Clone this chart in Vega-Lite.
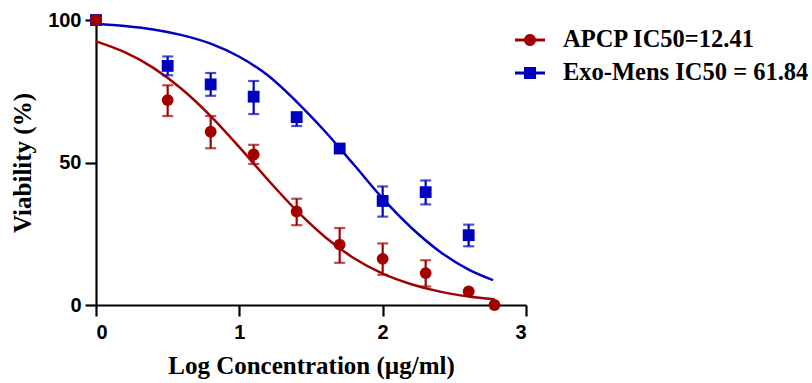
{
  "$schema": "https://vega.github.io/schema/vega-lite/v6.json",
  "width": 430,
  "height": 285,
  "autosize": {"type": "none"},
  "padding": {"left": 96, "top": 20, "right": 286, "bottom": 78},
  "background": "white",
  "config": {
    "view": {"stroke": null},
    "axis": {
      "grid": false,
      "domainColor": "black",
      "domainWidth": 2.2,
      "tickColor": "black",
      "tickWidth": 2.2,
      "tickSize": 11,
      "labelFont": "Liberation Sans",
      "labelFontWeight": "bold",
      "labelFontSize": 20,
      "labelColor": "black",
      "titleFont": "Liberation Serif",
      "titleFontWeight": "bold",
      "titleFontSize": 25,
      "titleColor": "black"
    }
  },
  "datasets": {
    "fit": [
      {"series": "APCP IC50=12.41", "x": 0, "y": 92.5},
      {"series": "APCP IC50=12.41", "x": 0.2, "y": 88.7},
      {"series": "APCP IC50=12.41", "x": 0.4, "y": 83.2},
      {"series": "APCP IC50=12.41", "x": 0.6, "y": 75.7},
      {"series": "APCP IC50=12.41", "x": 0.8, "y": 66.3},
      {"series": "APCP IC50=12.41", "x": 1.0, "y": 55.4},
      {"series": "APCP IC50=12.41", "x": 1.2, "y": 43.9},
      {"series": "APCP IC50=12.41", "x": 1.4, "y": 33.1},
      {"series": "APCP IC50=12.41", "x": 1.6, "y": 23.8},
      {"series": "APCP IC50=12.41", "x": 1.8, "y": 16.4},
      {"series": "APCP IC50=12.41", "x": 2.0, "y": 11.0},
      {"series": "APCP IC50=12.41", "x": 2.2, "y": 7.3},
      {"series": "APCP IC50=12.41", "x": 2.4, "y": 4.7},
      {"series": "APCP IC50=12.41", "x": 2.6, "y": 3.0},
      {"series": "APCP IC50=12.41", "x": 2.78, "y": 2.0},
      {"series": "Exo-Mens IC50 = 61.84", "x": 0, "y": 98.7},
      {"series": "Exo-Mens IC50 = 61.84", "x": 0.2, "y": 97.9},
      {"series": "Exo-Mens IC50 = 61.84", "x": 0.4, "y": 96.7},
      {"series": "Exo-Mens IC50 = 61.84", "x": 0.6, "y": 94.7},
      {"series": "Exo-Mens IC50 = 61.84", "x": 0.8, "y": 91.7},
      {"series": "Exo-Mens IC50 = 61.84", "x": 1.0, "y": 87.1},
      {"series": "Exo-Mens IC50 = 61.84", "x": 1.2, "y": 80.5},
      {"series": "Exo-Mens IC50 = 61.84", "x": 1.4, "y": 71.3},
      {"series": "Exo-Mens IC50 = 61.84", "x": 1.6, "y": 60.8},
      {"series": "Exo-Mens IC50 = 61.84", "x": 1.8, "y": 49.2},
      {"series": "Exo-Mens IC50 = 61.84", "x": 2.0, "y": 37.4},
      {"series": "Exo-Mens IC50 = 61.84", "x": 2.2, "y": 27.1},
      {"series": "Exo-Mens IC50 = 61.84", "x": 2.4, "y": 18.7},
      {"series": "Exo-Mens IC50 = 61.84", "x": 2.6, "y": 12.4},
      {"series": "Exo-Mens IC50 = 61.84", "x": 2.77, "y": 8.7}
    ],
    "pts": [
      {"series": "Exo-Mens IC50 = 61.84", "x": 0, "y": 100, "lo": 100, "hi": 100},
      {"series": "Exo-Mens IC50 = 61.84", "x": 0.5, "y": 83.9, "lo": 80.6, "hi": 87.2},
      {"series": "Exo-Mens IC50 = 61.84", "x": 0.8, "y": 77.4, "lo": 73.4, "hi": 81.4},
      {"series": "Exo-Mens IC50 = 61.84", "x": 1.1, "y": 73.1, "lo": 67.0, "hi": 78.6},
      {"series": "Exo-Mens IC50 = 61.84", "x": 1.4, "y": 65.9, "lo": 62.8, "hi": 67.5},
      {"series": "Exo-Mens IC50 = 61.84", "x": 1.7, "y": 54.9, "lo": 54.0, "hi": 55.8},
      {"series": "Exo-Mens IC50 = 61.84", "x": 2.0, "y": 36.5, "lo": 31.0, "hi": 41.6},
      {"series": "Exo-Mens IC50 = 61.84", "x": 2.3, "y": 39.6, "lo": 35.3, "hi": 43.7},
      {"series": "Exo-Mens IC50 = 61.84", "x": 2.6, "y": 24.5, "lo": 20.6, "hi": 28.2},
      {"series": "APCP IC50=12.41", "x": 0, "y": 100, "lo": 100, "hi": 100},
      {"series": "APCP IC50=12.41", "x": 0.5, "y": 71.9, "lo": 66.3, "hi": 77.1},
      {"series": "APCP IC50=12.41", "x": 0.8, "y": 60.8, "lo": 55.0, "hi": 66.3},
      {"series": "APCP IC50=12.41", "x": 1.1, "y": 52.8, "lo": 49.5, "hi": 56.2},
      {"series": "APCP IC50=12.41", "x": 1.4, "y": 32.8, "lo": 28.0, "hi": 37.3},
      {"series": "APCP IC50=12.41", "x": 1.7, "y": 21.2, "lo": 14.8, "hi": 27.0},
      {"series": "APCP IC50=12.41", "x": 2.0, "y": 16.2, "lo": 10.6, "hi": 21.6},
      {"series": "APCP IC50=12.41", "x": 2.3, "y": 11.2, "lo": 6.5, "hi": 15.7},
      {"series": "APCP IC50=12.41", "x": 2.6, "y": 4.8, "lo": 4.8, "hi": 4.8},
      {"series": "APCP IC50=12.41", "x": 2.78, "y": 0, "lo": 0, "hi": 0}
    ]
  },
  "encoding": {
    "x": {
      "field": "x",
      "type": "quantitative",
      "scale": {"domain": [0, 3], "nice": false},
      "axis": {"values": [0, 1, 2, 3], "title": "Log Concentration (µg/ml)", "labelPadding": 6, "titlePadding": 11}
    },
    "color": {
      "field": "series",
      "type": "nominal",
      "scale": {"domain": ["APCP IC50=12.41", "Exo-Mens IC50 = 61.84"], "range": ["#A00000", "#0000C0"]}
    }
  },
  "layer": [
    {
      "data": {"name": "fit"},
      "mark": {"type": "line", "interpolate": "monotone", "strokeWidth": 2.5},
      "encoding": {
        "y": {
          "field": "y",
          "type": "quantitative",
          "title": "Viability (%)",
          "scale": {"domain": [0, 100], "nice": false},
          "axis": {"values": [0, 50, 100], "title": "Viability (%)", "labelPadding": 4, "titlePadding": 12}
        },
        "color": {
          "field": "series",
          "type": "nominal",
          "scale": {"domain": ["APCP IC50=12.41", "Exo-Mens IC50 = 61.84"], "range": ["#A00000", "#0000C0"]},
          "legend": {
            "orient": "none",
            "legendX": 419,
            "legendY": 5,
            "title": null,
            "padding": 0,
            "symbolSize": 900,
            "symbolStrokeWidth": 0,
            "labelFont": "Liberation Serif",
            "labelFontSize": 24.5,
            "labelFontWeight": "bold",
            "labelColor": "black",
            "labelOffset": 18,
            "rowPadding": 6,
            "labelLimit": 400,
            "encode": {
              "symbols": {
                "update": {
                  "shape": {"signal": "indexof(datum.value, 'APCP') >= 0 ? 'M-1,-0.1H1V0.1H-1Z M0.4,0A0.4,0.4 0 1,1 -0.4,0A0.4,0.4 0 1,1 0.4,0Z' : 'M-1,-0.1H1V0.1H-1Z M-0.4,-0.4H0.4V0.4H-0.4Z'"},
                  "size": {"value": 900},
                  "fill": {"scale": "color", "field": "value"},
                  "fillOpacity": {"value": 1},
                  "strokeWidth": {"value": 0}
                }
              }
            }
          }
        }
      }
    },
    {
      "data": {"name": "pts"},
      "mark": {"type": "errorbar", "ticks": {"size": 11, "thickness": 2.2}, "rule": {"strokeWidth": 2.2}},
      "encoding": {
        "y": {"field": "lo", "type": "quantitative", "title": "Viability (%)"},
        "y2": {"field": "hi"}
      }
    },
    {
      "data": {"name": "pts"},
      "transform": [{"filter": "datum.series === 'Exo-Mens IC50 = 61.84'"}],
      "mark": {"type": "point", "filled": true, "opacity": 1, "size": 140, "shape": "square"},
      "encoding": {
        "y": {"field": "y", "type": "quantitative", "title": "Viability (%)"}
      }
    },
    {
      "data": {"name": "pts"},
      "transform": [{"filter": "datum.series === 'APCP IC50=12.41'"}],
      "mark": {"type": "point", "filled": true, "opacity": 1, "size": 140, "shape": "circle"},
      "encoding": {
        "y": {"field": "y", "type": "quantitative", "title": "Viability (%)"}
      }
    }
  ]
}
